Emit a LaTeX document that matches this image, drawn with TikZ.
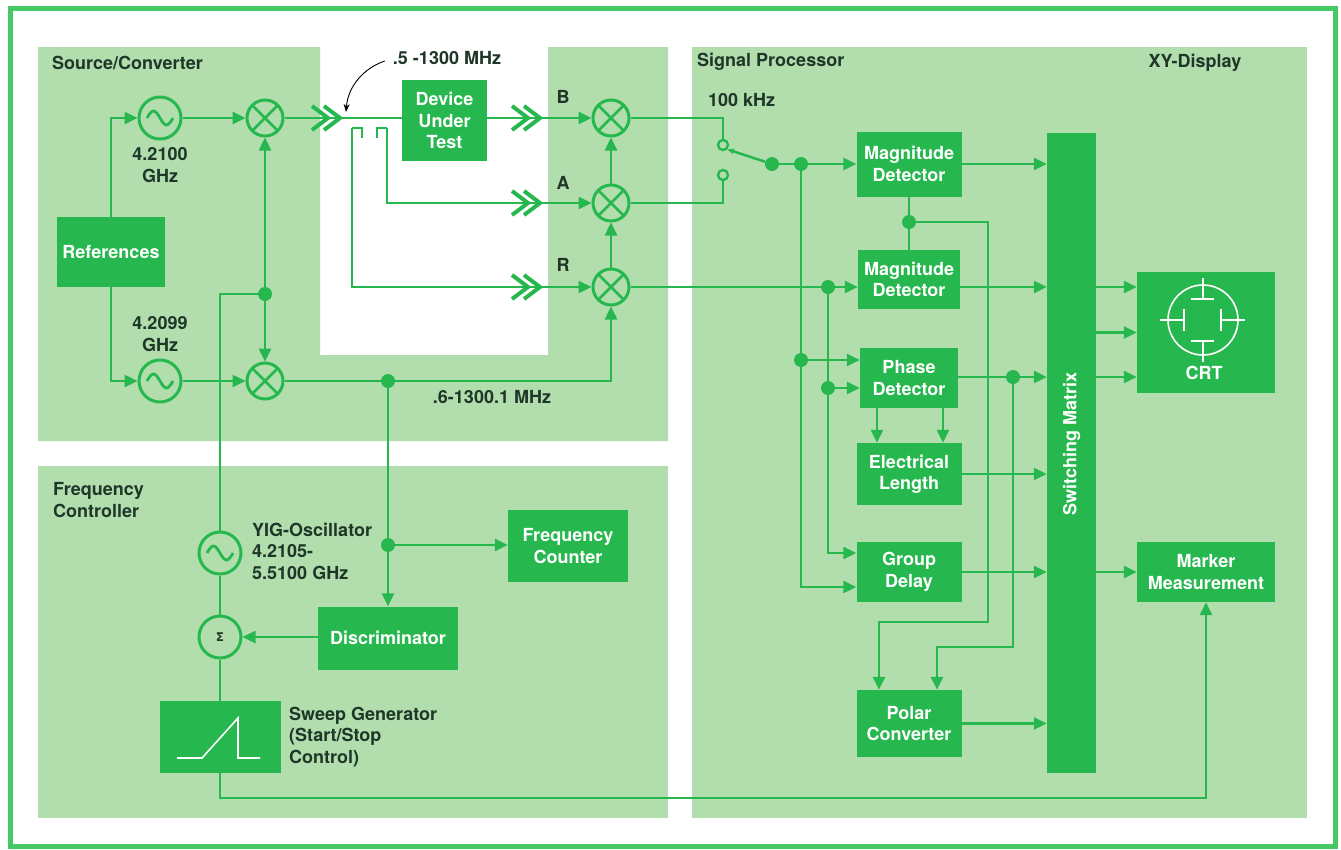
\documentclass[tikz,border=0pt]{standalone}
\usepackage{fontspec}
\setmainfont{TeX Gyre Heros}
\newfontfamily\dejavu{DejaVu Sans}
\usetikzlibrary{arrows.meta,calc}
\definecolor{panel}{RGB}{178,222,174}
\definecolor{gr}{RGB}{38,184,78}
\definecolor{txt}{RGB}{30,55,40}
\definecolor{frame}{RGB}{70,200,100}
\begin{document}
\begin{tikzpicture}[x=1pt,y=-1pt,
  box/.style={fill=gr, text=white, font=\bfseries\fontsize{18}{21.5}\selectfont, align=center, inner sep=0pt},
  lbl/.style={text=txt, font=\bfseries\fontsize{18}{21.5}\selectfont, inner sep=0pt},
  wire/.style={draw=gr, line width=2.5pt},
  arr/.style={wire, -{Triangle[length=13pt,width=12pt]}},
  ring/.style={circle, draw=gr, line width=3pt, fill=panel, inner sep=0pt},
  osc/.style={ring, minimum size=42pt},
  mix/.style={ring, minimum size=36pt},
  dot/.style={circle, fill=gr, inner sep=0pt, minimum size=14pt},
  contact/.style={circle, draw=gr, line width=2.4pt, fill=panel, inner sep=0pt, minimum size=10pt},
  chevs/.pic={\draw[gr, line width=4pt, miter limit=10] (-28,-12) -- (-12,0) -- (-28,12);
              \draw[gr, line width=4pt, miter limit=10] (-16,-12) -- (0,0) -- (-16,12);},
  xmark/.pic={\draw[gr, line width=2.8pt] (-12,-12) -- (12,12) (-12,12) -- (12,-12);},
  sine/.pic={\draw[gr, line width=2.8pt] (-13,0) sin (-6.5,-7) cos (0,0) sin (6.5,7) cos (13,0);}
]
\useasboundingbox (0,0) rectangle (1341,849);
\fill[white] (0,0) rectangle (1341,849);
\draw[frame, line width=5pt] (10,8) rectangle (1335,846);
% panels
\fill[panel] (38,47) -- (320,47) -- (320,355) -- (548,355) -- (548,47) -- (668,47) -- (668,441) -- (38,441) -- cycle;
\fill[panel] (692,47) rectangle (1307,818);
\fill[panel] (38,466) rectangle (668,818);

% panel titles and labels
\node[lbl, anchor=west] (tsrc) at (52,63) {Source/Converter};
\node[lbl, anchor=west] (tsig) at (697,62) {Signal Processor};
\node[lbl] (txy) at (1195,63) {XY-Display};
\node[lbl, anchor=west, align=left] (tfc) at (53,500) {Frequency\\Controller};
\node[lbl, align=center] (tf1) at (160,165) {4.2100\\GHz};
\node[lbl, align=center] (tf2) at (160,334) {4.2099\\GHz};
\node[lbl] (trange) at (447,58) {.5 -1300 MHz};
\node[lbl] (tB) at (563,97) {B};
\node[lbl] (tA) at (563,183) {A};
\node[lbl] (tR) at (563,265) {R};
\node[lbl] (tlo) at (492,397) {.6-1300.1 MHz};
\node[lbl, anchor=west] (t100) at (708,100) {100 kHz};
\node[lbl, anchor=west, align=left] (tyig) at (252,551) {YIG-Oscillator\\4.2105-\\5.5100 GHz};
\node[lbl, anchor=west, align=left] (tswp) at (289,737) {Sweep Generator\\(Start/Stop\\Control)};

% boxes
\node[box, minimum width=108pt, minimum height=70pt] (ref) at (111,252) {References};
\node[box, minimum width=85pt, minimum height=81pt] (dut) at (444.5,120.5) {Device\\Under\\Test};
\node[box, minimum width=120pt, minimum height=72pt] (fcount) at (568,546) {Frequency\\Counter};
\node[box, minimum width=140pt, minimum height=63pt] (disc) at (388,638) {Discriminator};
\node[box, minimum width=121pt, minimum height=72pt] (sweep) at (220,737) {};
\node[box, minimum width=105pt, minimum height=65pt] (mag1) at (909,164) {Magnitude\\Detector};
\node[box, minimum width=102pt, minimum height=59pt] (mag2) at (909,279.5) {Magnitude\\Detector};
\node[box, minimum width=98pt, minimum height=60pt] (phase) at (909,378) {Phase\\Detector};
\node[box, minimum width=105pt, minimum height=62pt] (elec) at (909,474) {Electrical\\Length};
\node[box, minimum width=105pt, minimum height=60pt] (group) at (909,572) {Group\\Delay};
\node[box, minimum width=105pt, minimum height=67pt] (polar) at (909,723.5) {Polar\\Converter};
\node[box, minimum width=49pt, minimum height=640pt] (sm) at (1071.5,453) {};
\node[rotate=90, text=white, font=\bfseries\fontsize{18}{21.5}\selectfont, inner sep=0pt] (smlbl) at (1071.5,444) {Switching Matrix};
\node[box, minimum width=138pt, minimum height=121pt] (crt) at (1206,332.5) {};
\node[text=white, font=\bfseries\fontsize{18}{21.5}\selectfont, inner sep=0pt] (crtlbl) at (1204,373) {CRT};
\node[box, minimum width=138pt, minimum height=60pt] (marker) at (1206,572) {Marker\\Measurement};

% sweep icon
\draw[white, line width=1.6pt] (177,758) -- (202,758) -- (238,718) -- (238,758) -- (260,758);
% CRT icon
\begin{scope}[white, line width=1.6pt]
\draw (1203,320) circle[radius=35];
\draw (1191,299) -- (1214,299) (1203,299) -- (1203,278);
\draw (1191,341) -- (1214,341) (1203,341) -- (1203,362);
\draw (1184,309) -- (1184,331) (1184,320) -- (1160,320);
\draw (1221,309) -- (1221,331) (1221,320) -- (1245,320);
\end{scope}

% circles
\node[osc] (osc1) at (160,118) {};
\node[osc] (osc2) at (160,381) {};
\node[mix] (mix1) at (265,118) {};
\node[mix] (mix2) at (265,381) {};
\node[mix] (mixB) at (611,118) {};
\node[mix] (mixA) at (611,203) {};
\node[mix] (mixR) at (611,287) {};
\node[osc] (yig) at (220,553) {};
\node[osc, font=\dejavu\bfseries\fontsize{12}{12}\selectfont, text=txt] (sigma) at (220,637) {Σ};
\pic at (osc1) {sine};
\pic at (osc2) {sine};
\pic at (yig) {sine};
\pic at (mix1) {xmark};
\pic at (mix2) {xmark};
\pic at (mixB) {xmark};
\pic at (mixA) {xmark};
\pic at (mixR) {xmark};

% dots, contacts, coordinates
\node[dot] (d1) at (265,294) {};
\node[dot] (d2) at (388,381) {};
\node[dot] (d3) at (388,545) {};
\node[contact] (c1) at (723,145) {};
\node[contact] (c2) at (723,175) {};
\node[dot] (sw) at (772,164) {};
\node[dot] (sp) at (801,164) {};
\node[dot] (dp) at (801,360) {};
\node[dot] (dm) at (909,222) {};
\node[dot] (dr) at (828,287) {};
\node[dot] (dr2) at (828,388) {};
\node[dot] (dph) at (1013,377) {};
\coordinate (cplR) at (352,128);
\coordinate (cplA) at (387,128);
\coordinate (k1) at (988,622);
\coordinate (k2) at (1013,647);
\coordinate (k3) at (220,798);
\coordinate (arrEnd) at (346,112);

% source / converter wiring
\draw[arr] (ref.north) |- (osc1);
\draw[arr] (ref.south) |- (osc2);
\draw[arr] (osc1) -- (mix1);
\draw[arr] (osc2) -- (mix2);
\draw[arr] (d1) -- (mix1);
\draw[arr] (d1) -- (mix2);
\draw[wire] (yig) |- (d1);
\draw[wire] (mix1.east) -- (mix1.east -| dut.west);
\draw[arr] (dut.east |- mixB) -- (mixB);
\draw[wire] (362,138) -- (362,128) -- (cplR);
\draw[arr] (cplR) |- (mixR);
\draw[wire] (377,138) -- (377,128) -- (cplA);
\draw[arr] (cplA) |- (mixA);
\draw[arr] (mixR) -- (mixA);
\draw[arr] (mixA) -- (mixB);
\draw[arr] (mix2) -- (d2) -| (mixR);
\pic at (340,118) {chevs};
\pic at (540,118) {chevs};
\pic at (540,203) {chevs};
\pic at (540,287) {chevs};
\draw[black, line width=0.9pt, -{Stealth[length=8pt,width=6pt]}] ($(trange.west)+(-8,3)$) .. controls (364,68) and (348,86) .. (arrEnd);

% frequency controller wiring
\draw[wire] (d2) -- (d3);
\draw[arr] (d3) -- (d3 -| fcount.west);
\draw[arr] (d3) -- (disc);
\draw[arr] (disc.west |- sigma) -- (sigma);
\draw[wire] (yig) -- (sigma);
\draw[wire] (sigma) -- (sweep);
\draw[arr] (sweep) -- (k3) -| (marker);

% signal processor wiring
\draw[wire] (mixB) -| (c1);
\draw[wire] (mixA) -| (c2);
\draw[wire, -{Stealth[length=7pt,width=6pt]}] (sw) -- (c1.south east);
\draw[wire] (sw) -- (sp);
\draw[arr] (sp) -- (sp -| mag1.west);
\draw[wire] (sp) -- (dp);
\draw[arr] (dp) -- (dp -| phase.west);
\draw[arr] (dp) |- ($(group.west)+(0,15)$);
\draw[wire] (mag1) -- (dm) -- (mag2);
\draw[arr] (dm) -| (k1) -| ($(polar.north)+(-30,0)$);
\draw[wire] (mixR) -- (dr);
\draw[arr] (dr) -- (dr -| mag2.west);
\draw[wire] (dr) -- (dr2);
\draw[arr] (dr2) -- (dr2 -| phase.west);
\draw[arr] (dr2) |- ($(group.west)+(0,-19)$);
\draw[wire] (phase.east |- dph) -- (dph);
\draw[arr] (dph) -- (dph -| sm.west);
\draw[arr] (dph) -- (k2) -| ($(polar.north)+(28,0)$);
\draw[arr] ($(phase.south)+(-32,0)$) -- ($(elec.north)+(-32,0)$);
\draw[arr] ($(phase.south)+(34,0)$) -- ($(elec.north)+(34,0)$);
\draw[arr] (mag1.east |- sp) -- (sp -| sm.west);
\draw[arr] (mag2.east |- dr) -- (dr -| sm.west);
\draw[arr] (elec.east) -- (elec.east -| sm.west);
\draw[arr] (group.east) -- (group.east -| sm.west);
\draw[arr] (polar.east) -- (polar.east -| sm.west);
\draw[arr] (sm.east |- dr) -- (dr -| crt.west);
\draw[arr] (sm.east |- crt.west) -- (crt.west);
\draw[arr] (sm.east |- dph) -- (dph -| crt.west);
\draw[arr] (sm.east |- marker) -- (marker);
\end{tikzpicture}
\end{document}
